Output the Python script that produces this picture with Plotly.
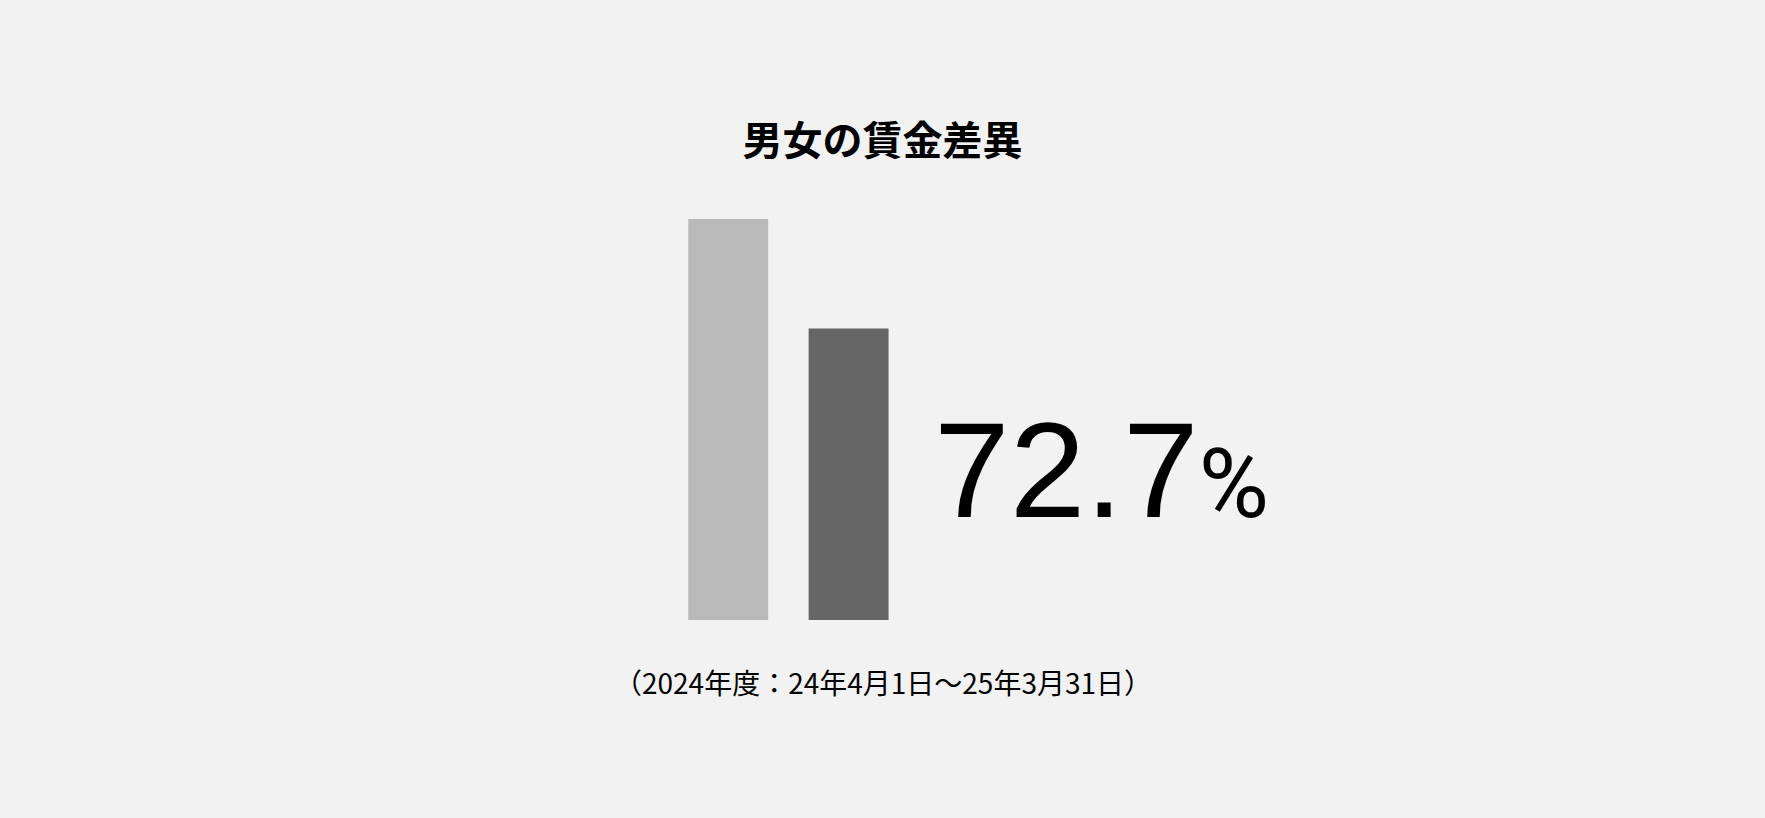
import plotly.graph_objects as go

# data
categories = ["男性", "女性"]
wages = [100, 72.7]
bar_colors = ["#b9b9b9", "#666666"]
title_text = "男女の賃金差異"
period_text = "（2024年度：24年4月1日～25年3月31日）"

ratio = wages[1] / wages[0] * 100

fig = go.Figure()

fig.add_trace(
    go.Bar(
        x=categories,
        y=wages,
        marker=dict(color=bar_colors, line=dict(width=0)),
        width=0.664,
        hoverinfo="skip",
    )
)

# big ratio number, smaller percent sign
fig.add_annotation(
    x=1.69,
    y=37.3,
    xref="x",
    yref="y",
    xanchor="left",
    yanchor="middle",
    text=f"{ratio:.1f}<span style='font-size:96px;font-family:Roboto'>%</span>",
    showarrow=False,
    font=dict(family="Liberation Sans, Arial", size=136, color="#000000"),
)

# period note
fig.add_annotation(
    x=0.357,
    y=-0.14,
    xref="paper",
    yref="paper",
    xanchor="center",
    yanchor="middle",
    text=period_text,
    showarrow=False,
    font=dict(family="Noto Sans CJK JP", size=28, color="#000000"),
)

fig.update_layout(
    width=1765,
    height=818,
    paper_bgcolor="#f2f2f2",
    plot_bgcolor="#f2f2f2",
    showlegend=False,
    title=dict(
        text=f"<b>{title_text}</b>",
        x=0.5,
        xref="container",
        xanchor="center",
        y=1 - 141 / 818,
        yref="container",
        yanchor="middle",
        font=dict(family="Noto Sans CJK JP", size=40, color="#000000"),
    ),
    margin=dict(l=668, r=495, t=179, b=198, pad=0),
    xaxis=dict(
        range=[-0.5, 4.5],
        visible=False,
    ),
    yaxis=dict(
        range=[0, 110],
        visible=False,
    ),
)

fig.write_html(
    "out.html",
    config={"displayModeBar": False},
    post_script="document.body.style.margin='0';document.body.style.background='#f2f2f2';",
)
